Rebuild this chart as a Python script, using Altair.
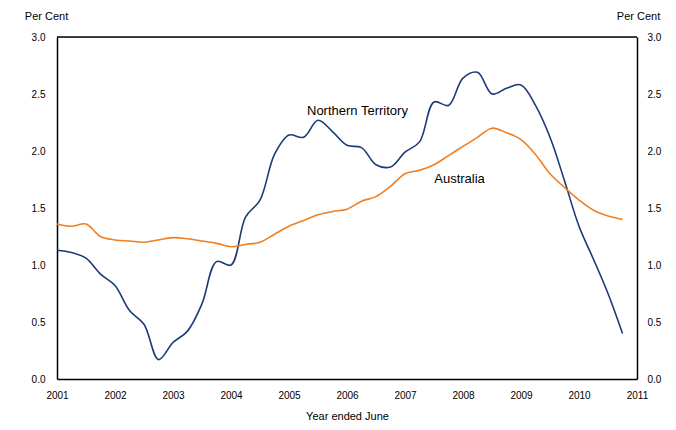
import altair as alt
import pandas as pd

years = [2001 + 0.25 * i for i in range(40)]

nt = [1.13, 1.11, 1.06, 0.92, 0.82, 0.60, 0.48, 0.17, 0.32, 0.42,
      0.66, 1.03, 1.00, 1.42, 1.57, 1.97, 2.14, 2.12, 2.27, 2.17,
      2.05, 2.03, 1.88, 1.86, 1.99, 2.08, 2.43, 2.40, 2.64, 2.69,
      2.50, 2.55, 2.58, 2.40, 2.12, 1.74, 1.34, 1.05, 0.75, 0.40]

aus = [1.36, 1.34, 1.36, 1.25, 1.22, 1.21, 1.20, 1.22, 1.24, 1.23,
       1.21, 1.19, 1.16, 1.18, 1.20, 1.27, 1.34, 1.39, 1.44, 1.47,
       1.49, 1.56, 1.60, 1.69, 1.80, 1.83, 1.88, 1.96, 2.04, 2.12,
       2.20, 2.16, 2.10, 1.97, 1.80, 1.68, 1.57, 1.48, 1.43, 1.40]

series_names = ["Northern Territory", "Australia"]
series_colors = ["#1b3a78", "#f07f22"]

label_text = ["Northern Territory", "Australia"]
label_x = [2006.18, 2007.94]
label_y = [2.355, 1.752]

x_ticks = list(range(2001, 2012))
y_ticks = [0.0, 0.5, 1.0, 1.5, 2.0, 2.5, 3.0]

df = pd.DataFrame({
    "year": years * 2,
    "value": nt + aus,
    "series": [series_names[0]] * len(years) + [series_names[1]] * len(years),
})
labels = pd.DataFrame({"text": label_text, "x": label_x, "y": label_y})

FONT = "Liberation Sans"

xscale = alt.Scale(domain=[2001, 2011], nice=False, zero=False)
yscale = alt.Scale(domain=[0, 3], nice=False, zero=True)

xaxis = alt.Axis(values=x_ticks, format="d", title="Year ended June", ticks=False,
                 domain=True, domainColor="#000000", domainWidth=1.5, grid=False,
                 labelPadding=11, labelFlush=False,
                 titleY=37, titleBaseline="middle", titleFontWeight="normal")

lines = alt.Chart(df).mark_line(interpolate="catmull-rom", strokeWidth=1.6).encode(
    x=alt.X("year:Q", scale=xscale, axis=xaxis),
    y=alt.Y("value:Q", scale=yscale,
            axis=alt.Axis(orient="left", values=y_ticks, format=".1f", title="Per  Cent",
                          titleAngle=0, titleX=-11, titleY=-21, titleAlign="center",
                          titleBaseline="middle", ticks=False, domain=True,
                          domainColor="#000000", domainWidth=1.5, grid=False,
                          labelPadding=12, titleFontWeight="normal")),
    color=alt.Color("series:N", scale=alt.Scale(domain=series_names, range=series_colors),
                    legend=None),
)

right = alt.Chart(df).mark_line(opacity=0).encode(
    x=alt.X("year:Q", scale=xscale, axis=xaxis),
    y=alt.Y("value:Q", scale=yscale,
            axis=alt.Axis(orient="right", values=y_ticks, format=".1f", title="Per Cent",
                          titleAngle=0, titleX=1, titleY=-21, titleAlign="center",
                          titleBaseline="middle", ticks=False, domain=True,
                          domainColor="#000000", domainWidth=1.5, grid=False,
                          labelPadding=10, titleFontWeight="normal")),
    detail="series:N",
)

top_rule = alt.Chart(pd.DataFrame({"a": [0]})).mark_rule(color="#000000", strokeWidth=1.5).encode(
    x=alt.datum(2001, scale=xscale),
    x2=alt.datum(2011),
    y=alt.datum(3.0, scale=yscale, axis=None),
)

text = alt.Chart(labels).mark_text(fontSize=13, font=FONT, color="#000000",
                                   align="center", baseline="middle").encode(
    x=alt.X("x:Q", scale=xscale),
    y=alt.Y("y:Q", scale=yscale, axis=None),
    text="text:N",
)

chart = alt.layer(lines, right, text, top_rule).resolve_scale(y="independent").properties(
    width=580, height=342,
    autosize=alt.AutoSizeParams(type="none"),
    padding={"left": 49, "top": 29, "right": 30, "bottom": 43},
).configure_view(
    stroke=None,
).configure_axis(
    labelFont=FONT, titleFont=FONT, labelFontSize=13, titleFontSize=13,
    labelColor="#000000", titleColor="#000000",
).configure(background="white")

chart.save("out.html", embed_options={"renderer": "svg", "actions": False})
